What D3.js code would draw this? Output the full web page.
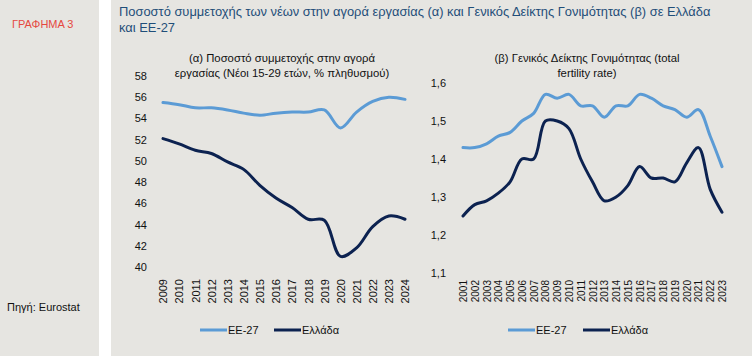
<!DOCTYPE html>
<html><head><meta charset="utf-8">
<script src="https://cdn.jsdelivr.net/npm/d3@7"></script>
<style>
body{margin:0;padding:0;background:#fff;}
svg{display:block;font-family:"Liberation Sans",Arial,sans-serif;}
</style></head>
<body>
<script>
// Chart (α): youth labour participation (15-29, % of population)
const yearsA = [2009,2010,2011,2012,2013,2014,2015,2016,2017,2018,2019,2020,2021,2022,2023,2024];
const euA = [55.5,55.3,55.0,55.0,54.8,54.5,54.3,54.5,54.6,54.6,54.8,53.1,54.6,55.6,56.0,55.8];
const grA = [52.1,51.6,51.0,50.7,49.9,49.2,47.7,46.5,45.6,44.5,44.4,41.0,41.8,43.8,44.8,44.5];
const ticksA = [40,42,44,46,48,50,52,54,56,58];

// Chart (β): total fertility rate
const yearsB = [2001,2002,2003,2004,2005,2006,2007,2008,2009,2010,2011,2012,2013,2014,2015,2016,2017,2018,2019,2020,2021,2022,2023];
const euB = [1.43,1.43,1.44,1.46,1.47,1.50,1.52,1.57,1.56,1.57,1.54,1.54,1.51,1.54,1.54,1.57,1.56,1.54,1.53,1.51,1.53,1.46,1.38];
const grB = [1.25,1.28,1.29,1.31,1.34,1.40,1.40,1.50,1.50,1.48,1.40,1.34,1.29,1.30,1.33,1.38,1.35,1.35,1.34,1.39,1.43,1.32,1.26];
const ticksB = [1.1,1.2,1.3,1.4,1.5,1.6];

const seriesNames = ["ΕΕ-27","Ελλάδα"];
const colors = ["#5b9bd5","#0c2250"];

const W = 752, H = 356;
const svg = d3.select("body").append("svg").attr("width",W).attr("height",H);

// panels
svg.append("rect").attr("x",0).attr("y",0).attr("width",W).attr("height",H).attr("fill","#ffffff");
svg.append("rect").attr("x",0).attr("y",0).attr("width",99).attr("height",H).attr("fill","#e6e5e1");
svg.append("rect").attr("x",111).attr("y",0).attr("width",W-111).attr("height",H).attr("fill","#e6e5e1");

svg.append("text").attr("x",12).attr("y",28).attr("fill","#e5483f").attr("font-size",11).text("ΓΡΑΦΗΜΑ 3");
svg.append("text").attr("x",7).attr("y",311).attr("fill","#111").attr("font-size",11).text("Πηγή: Eurostat");

const title = svg.append("text").attr("fill","#1f4e79").attr("font-size",12.9);
title.append("tspan").attr("x",119).attr("y",16).text("Ποσοστό συμμετοχής των νέων στην αγορά εργασίας (α) και Γενικός Δείκτης Γονιμότητας (β) σε Ελλάδα");
title.append("tspan").attr("x",119).attr("y",32).text("και ΕΕ-27");

function panel(cfg){
  const x = d3.scalePoint().domain(cfg.years).range(cfg.xr);
  const y = d3.scaleLinear().domain(cfg.yd).range(cfg.yr);
  const g = svg.append("g");
  // subtitle
  const st = g.append("text").attr("text-anchor","middle").attr("font-size",11.3).attr("fill","#111");
  cfg.sub.forEach((s,i)=>st.append("tspan").attr("x",cfg.subx).attr("y",62+i*15).text(s));
  // y axis
  const ya = g.append("g").attr("transform",`translate(${cfg.yax},0)`)
    .call(d3.axisLeft(y).tickValues(cfg.ticks).tickSize(0).tickPadding(0).tickFormat(cfg.fmt));
  ya.select(".domain").remove();
  ya.selectAll("text").attr("font-size",11).attr("fill","#111").attr("font-family","Liberation Sans, Arial, sans-serif");
  // x axis
  const xa = g.append("g").attr("transform",`translate(0,${cfg.xay})`)
    .call(d3.axisBottom(x).tickSize(0).tickPadding(0));
  xa.select(".domain").remove();
  xa.selectAll("text").attr("font-size",cfg.xfs).attr("fill","#111").attr("font-family","Liberation Sans, Arial, sans-serif")
    .attr("transform","rotate(-90)").attr("text-anchor","end").attr("x",0).attr("y",0).attr("dx",0).attr("dy","0.35em");
  // lines
  const line = d3.line().x((d,i)=>x(cfg.years[i])).y(d=>y(d)).curve(d3.curveCatmullRom.alpha(0.5));
  [cfg.eu,cfg.gr].forEach((s,k)=>{
    g.append("path").attr("d",line(s)).attr("fill","none").attr("stroke",colors[k]).attr("stroke-width",3)
      .attr("stroke-linecap","round").attr("stroke-linejoin","round");
  });
  // legend
  cfg.leg.forEach((lx,k)=>{
    g.append("line").attr("x1",lx).attr("x2",lx+27).attr("y1",330).attr("y2",330).attr("stroke",colors[k]).attr("stroke-width",3);
    g.append("text").attr("x",lx+28).attr("y",334).attr("font-size",11).attr("fill","#111").text(seriesNames[k]);
  });
}

panel({years:yearsA, eu:euA, gr:grA, ticks:ticksA, yd:[40,58], yr:[267,76], xr:[163,405],
  yax:147, xay:279, xfs:11, fmt:d3.format("d"), subx:282,
  sub:["(α) Ποσοστό συμμετοχής στην αγορά","εργασίας (Νέοι 15-29 ετών, % πληθυσμού)"], leg:[200,274]});

panel({years:yearsB, eu:euB, gr:grB, ticks:ticksB, yd:[1.1,1.6], yr:[273,83], xr:[463,722],
  yax:446, xay:280, xfs:10, fmt:d=>d3.format(".1f")(d).replace(".",","), subx:587,
  sub:["(β) Γενικός Δείκτης Γονιμότητας (total","fertility rate)"], leg:[508,583]});
</script>
</body></html>
